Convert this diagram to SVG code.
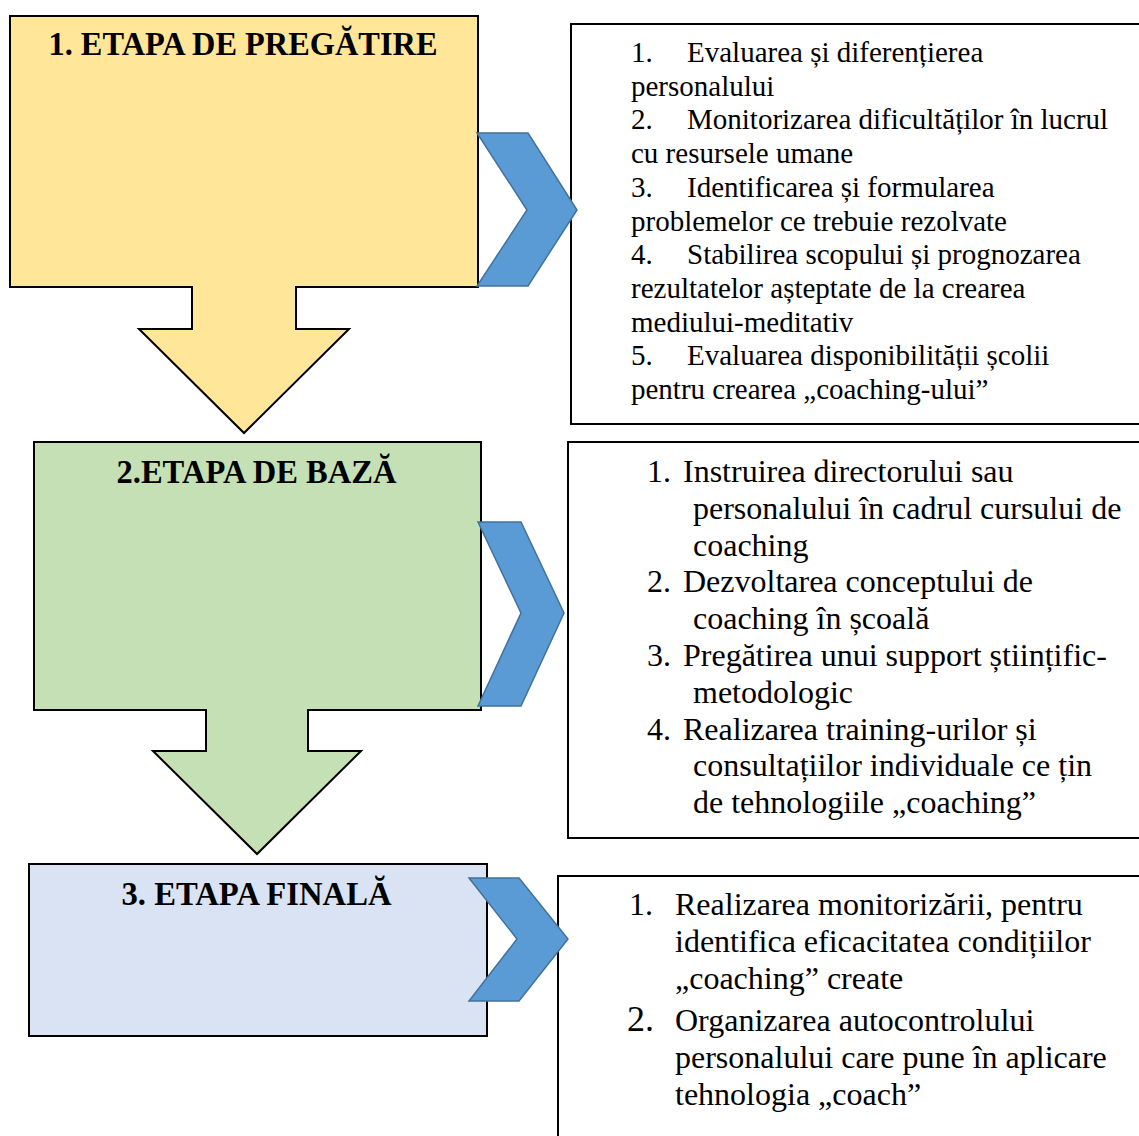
<svg xmlns="http://www.w3.org/2000/svg" width="1139" height="1136" viewBox="0 0 1139 1136">
<style>
.box{fill:#FFFFFF;stroke:#000000;stroke-width:2}
.ol{stroke:#000000;stroke-width:2;stroke-linejoin:miter}
.chev{fill:#5B9BD5;stroke:#41719C;stroke-width:1.5;stroke-linejoin:miter}
.title{font-family:"Liberation Serif","Times New Roman",serif;font-weight:bold;font-size:33px;fill:#000;text-anchor:middle}
.t1{font-family:"Liberation Serif","Times New Roman",serif;font-size:29px;fill:#000}
.t2{font-family:"Liberation Serif","Times New Roman",serif;font-size:32px;fill:#000}
</style>
<rect width="1139" height="1136" fill="#FFFFFF"/>

<g id="list1">
<rect class="box" x="571" y="24" width="580" height="400"/>
<text class="t1" x="631" y="62">1.</text><text class="t1" x="687" y="62">Evaluarea și diferențierea</text>
<text class="t1" x="631" y="95.7">personalului</text>
<text class="t1" x="631" y="129.4">2.</text><text class="t1" x="687" y="129.4">Monitorizarea dificultăților în lucrul</text>
<text class="t1" x="631" y="163">cu resursele umane</text>
<text class="t1" x="631" y="196.8">3.</text><text class="t1" x="687" y="196.8">Identificarea și formularea</text>
<text class="t1" x="631" y="230.5">problemelor ce trebuie rezolvate</text>
<text class="t1" x="631" y="264.2">4.</text><text class="t1" x="687" y="264.2">Stabilirea scopului și prognozarea</text>
<text class="t1" x="631" y="298">rezultatelor așteptate de la crearea</text>
<text class="t1" x="631" y="331.7">mediului-meditativ</text>
<text class="t1" x="631" y="365.4">5.</text><text class="t1" x="687" y="365.4">Evaluarea disponibilității școlii</text>
<text class="t1" x="631" y="399">pentru crearea „coaching-ului”</text>
</g>

<g id="list2">
<rect class="box" x="568" y="442" width="580" height="396"/>
<text class="t2" x="647" y="482">1.</text><text class="t2" x="683" y="482">Instruirea directorului sau</text>
<text class="t2" x="693" y="518.8">personalului în cadrul cursului de</text>
<text class="t2" x="693" y="555.6">coaching</text>
<text class="t2" x="647" y="592.4">2.</text><text class="t2" x="683" y="592.4">Dezvoltarea conceptului de</text>
<text class="t2" x="693" y="629.2">coaching în școală</text>
<text class="t2" x="647" y="666">3.</text><text class="t2" x="683" y="666">Pregătirea unui support științific-</text>
<text class="t2" x="693" y="702.8">metodologic</text>
<text class="t2" x="647" y="739.6">4.</text><text class="t2" x="683" y="739.6">Realizarea training-urilor și</text>
<text class="t2" x="693" y="776.4">consultațiilor individuale ce țin</text>
<text class="t2" x="693" y="813.2">de tehnologiile „coaching”</text>
</g>

<g id="list3">
<rect class="box" x="558" y="876" width="590" height="280"/>
<text class="t2" x="629" y="915">1.</text><text class="t2" x="675" y="915">Realizarea monitorizării, pentru</text>
<text class="t2" x="675" y="952">identifica eficacitatea condițiilor</text>
<text class="t2" x="675" y="989">„coaching” create</text>
<text class="t2" x="627" y="1031" style="font-size:36px">2.</text><text class="t2" x="675" y="1031">Organizarea autocontrolului</text>
<text class="t2" x="675" y="1068">personalului care pune în aplicare</text>
<text class="t2" x="675" y="1105">tehnologia „coach”</text>
</g>

<g id="stage1">
<path class="ol" fill="#FFE699" d="M10,16 H478 V287 H296 V329 H349 L244,433 L139,329 H192 V287 H10 Z"/>
<text class="title" x="243" y="55" textLength="389" lengthAdjust="spacingAndGlyphs">1. ETAPA DE PREGĂTIRE</text>
</g>

<g id="stage2">
<path class="ol" fill="#C5E0B4" d="M34,442 H481 V710 H308 V751 H361 L257,854 L153,751 H206 V710 H34 Z"/>
<text class="title" x="256.5" y="482.5" textLength="280" lengthAdjust="spacingAndGlyphs">2.ETAPA DE BAZĂ</text>
</g>

<g id="stage3">
<rect class="ol" fill="#DAE3F3" x="29" y="864" width="458" height="172"/>
<text class="title" x="256.5" y="905" textLength="270" lengthAdjust="spacingAndGlyphs">3. ETAPA FINALĂ</text>
</g>

<g id="connectors">
<polygon class="chev" points="477,133 528,133 577,210 528,286 477,286 527,210"/>
<polygon class="chev" points="478,522 521,522 564,613 521,706 478,706 521,613"/>
<polygon class="chev" points="469,878 519,878 568,939 519,1001 469,1001 517,939"/>
</g>
</svg>
